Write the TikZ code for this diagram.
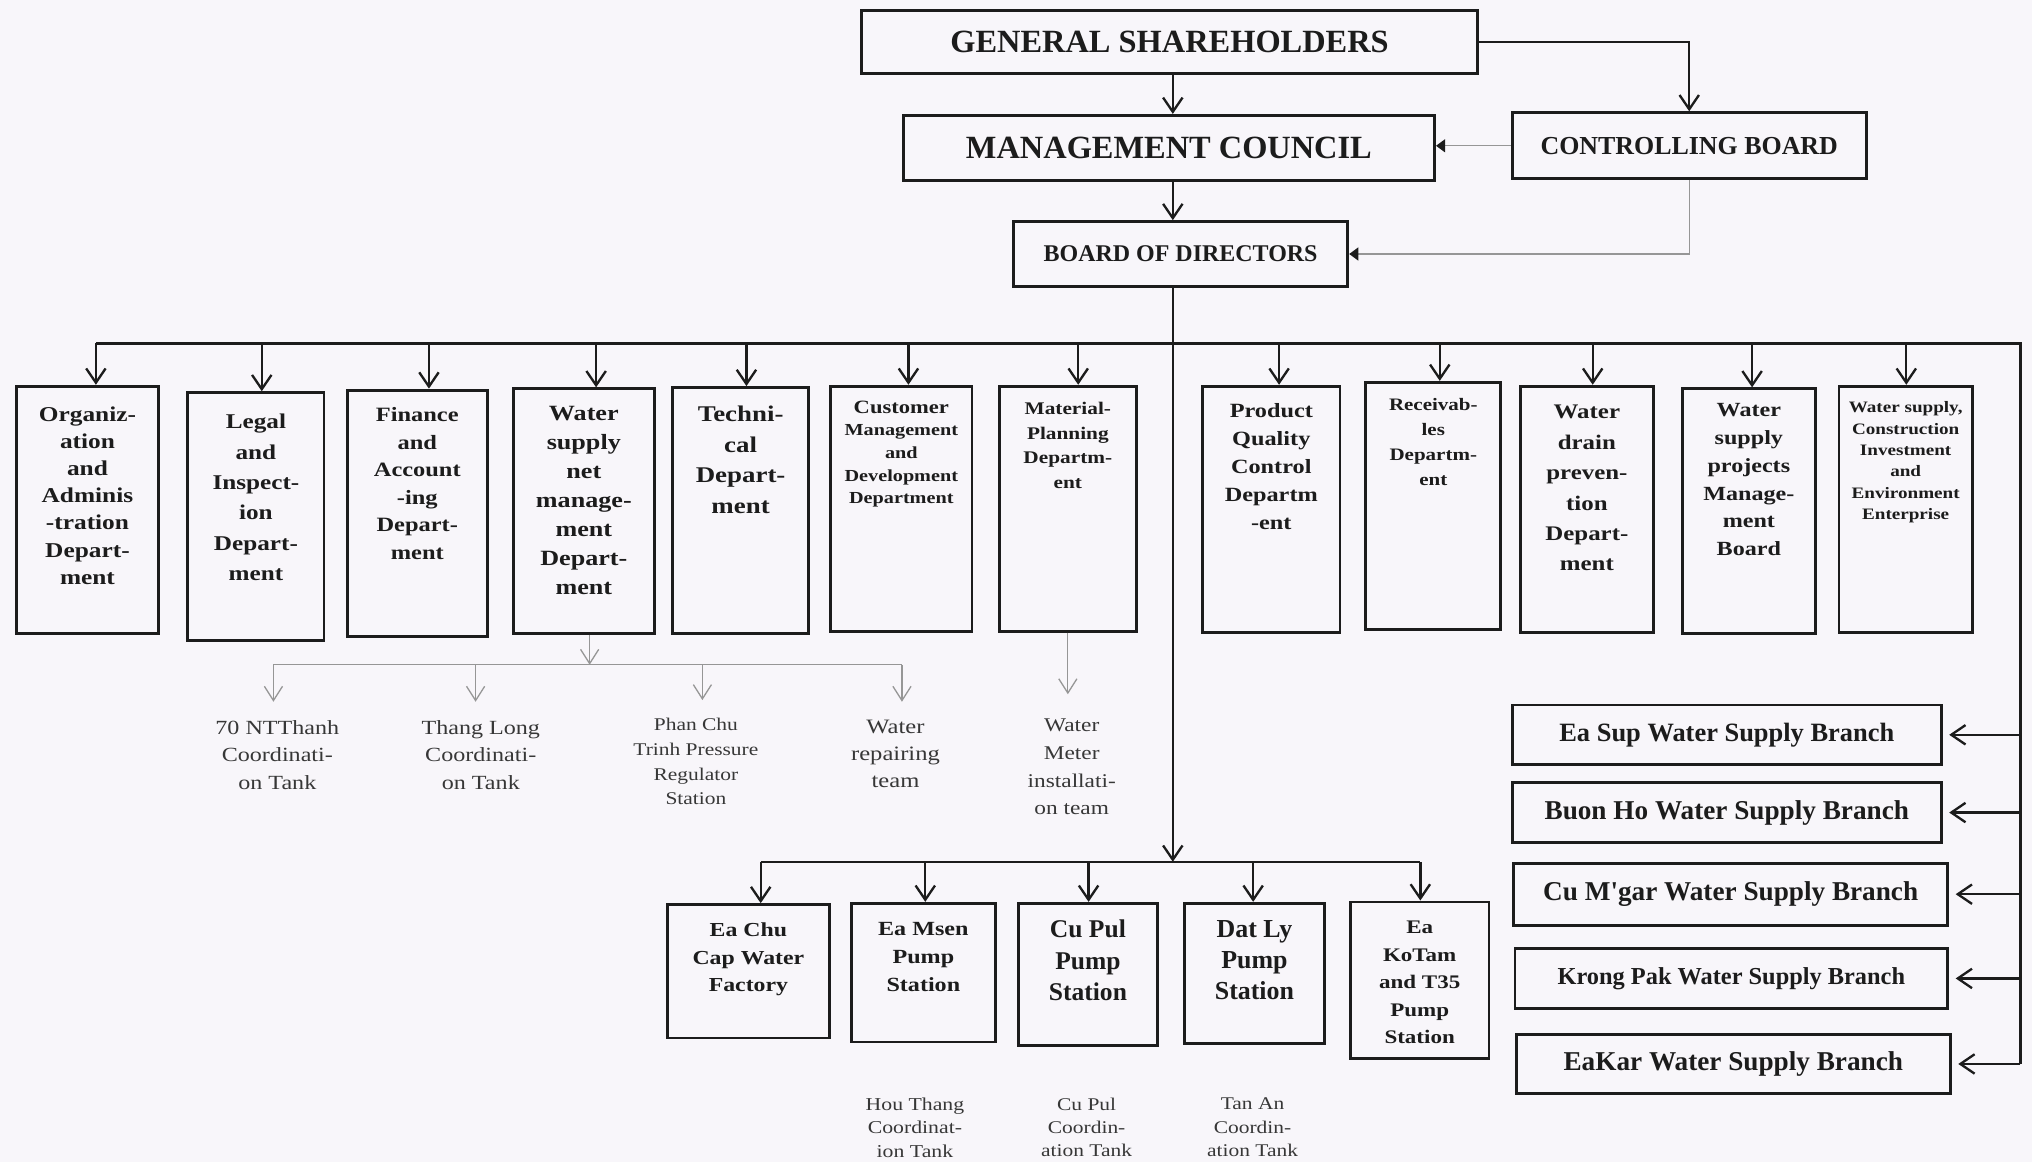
\documentclass[tikz,border=0pt]{standalone}
\usepackage{fontspec}
\setmainfont{Liberation Serif}
\newfontfamily\widefam[FakeStretch=1.2]{Liberation Serif}
\usetikzlibrary{arrows.meta,calc}
\definecolor{bg}{RGB}{248,246,250}
\definecolor{ink}{RGB}{28,28,28}
\definecolor{subink}{RGB}{55,55,55}
\definecolor{gline}{RGB}{150,150,150}
\newcommand\dfb[2]{\widefam\bfseries\fontsize{#1}{#2}\selectfont}
\newcommand\dfr[2]{\widefam\fontsize{#1}{#2}\selectfont}
\newcommand\dnb[2]{\bfseries\fontsize{#1}{#2}\selectfont}
\tikzset{
  box/.style={draw=ink, line width=2.2pt, inner sep=0pt, text=ink},
  txt/.style={inner sep=0pt, align=center, text=ink, anchor=north},
  subtxt/.style={inner sep=0pt, align=center, text=subink, anchor=north},
  conn/.style={draw=ink, line width=1.8pt, -{Straight Barb[length=11pt,width=15pt]}},
  busline/.style={draw=ink, line width=1.8pt},
  gconn/.style={draw=gline, line width=1pt, -{Straight Barb[length=11pt,width=14pt]}},
  gbus/.style={draw=gline, line width=1pt},
  tri/.style={draw=gline, line width=1pt, -{Triangle[length=7pt,width=10pt,color=ink]}}
}
\begin{document}
\begin{tikzpicture}[x=1pt,y=-1pt]
\fill[bg] (0,0) rectangle (1568,897);
\useasboundingbox (0,0) rectangle (1568,897);

% top level
\node[box, minimum width=475pt, minimum height=49pt, font=\dnb{25}{30}] (GS) at (902.5,32.5) {GENERAL SHAREHOLDERS};
\node[box, minimum width=410pt, minimum height=50pt, font=\dnb{25}{30}] (MC) at (902,114) {MANAGEMENT COUNCIL};
\node[box, minimum width=273pt, minimum height=51pt, font=\dnb{20}{24}] (CB) at (1303.5,112.5) {CONTROLLING BOARD};
\node[box, minimum width=258pt, minimum height=50pt, font=\dnb{18.5}{22}] (BoD) at (911,196) {BOARD OF DIRECTORS};

\coordinate (spine) at (905,221);

% departments
\node[box, minimum width=109pt, minimum height=191pt] (d1) at (67.5,393.5) {};
\node[box, minimum width=105pt, minimum height=191pt] (d2) at (197.5,398.5) {};
\node[box, minimum width=108pt, minimum height=190pt] (d3) at (322,396) {};
\node[box, minimum width=109pt, minimum height=189pt] (d4) at (450.5,394.5) {};
\node[box, minimum width=105pt, minimum height=190pt] (d5) at (571.5,394) {};
\node[box, minimum width=109pt, minimum height=189pt] (d6) at (695.5,392.5) {};
\node[box, minimum width=106pt, minimum height=189pt] (d7) at (824,392.5) {};
\node[box, minimum width=106pt, minimum height=190pt] (d8) at (981,393) {};
\node[box, minimum width=104pt, minimum height=191pt] (d9) at (1106,390.5) {};
\node[box, minimum width=103pt, minimum height=190pt] (d10) at (1224.5,393) {};
\node[box, minimum width=103pt, minimum height=189pt] (d11) at (1349.5,394.5) {};
\node[box, minimum width=103pt, minimum height=190pt] (d12) at (1470.5,393) {};

\node[txt, font=\dfb{16.3}{21}] (t1) at ($(d1.north)+(0,16.5)$) {Organiz-\\ation\\and\\Adminis\\-tration\\Depart-\\ment};
\node[txt, font=\dfb{16.2}{23.4}] (t2) at ($(d2.north)+(0,17.5)$) {Legal\\and\\Inspect-\\ion\\Depart-\\ment};
\node[txt, font=\dfb{15.7}{21.2}] (t3) at ($(d3.north)+(0,14.5)$) {Finance\\and\\Account\\-ing\\Depart-\\ment};
\node[txt, font=\dfb{16.8}{22.3}] (t4) at ($(d4.north)+(0,14.5)$) {Water\\supply\\net\\manage-\\ment\\Depart-\\ment};
\node[txt, font=\dfb{17.3}{23.7}] (t5) at ($(d5.north)+(0,15)$) {Techni-\\cal\\Depart-\\ment};
\node[txt, font=\dfb{13}{17.5}] (t6) at ($(d6.north)+(0,12)$) {{\fontsize{14.5}{17.5}\selectfont Customer}\\Management\\and\\Development\\Department};
\node[txt, font=\dfb{13.7}{19}] (t7) at ($(d7.north)+(0,13.3)$) {Material-\\Planning\\Departm-\\ent};
\node[txt, font=\dfb{15.6}{21.5}] (t8) at ($(d8.north)+(0,14.5)$) {Product\\Quality\\Control\\Departm\\-ent};
\node[txt, font=\dfb{13.5}{19.3}] (t9) at ($(d9.north)+(0,13.5)$) {Receivab-\\les\\Departm-\\ent};
\node[txt, font=\dfb{16}{23.5}] (t10) at ($(d10.north)+(0,15.5)$) {Water\\drain\\preven-\\tion\\Depart-\\ment};
\node[txt, font=\dfb{15.5}{21.4}] (t11) at ($(d11.north)+(0,12.5)$) {Water\\supply\\projects\\Manage-\\ment\\Board};
\node[txt, font=\dfb{12.3}{16.5}] (t12) at ($(d12.north)+(0,12.8)$) {Water supply,\\Construction\\Investment\\and\\Environment\\Enterprise};

% sub units of water supply net / material
\node[subtxt, font=\dfr{15.5}{21.5}] (s1) at (214,555.5) {70 NTThanh\\Coordinati-\\on Tank};
\node[subtxt, font=\dfr{15.5}{21.5}] (s2) at (371,555.5) {Thang Long\\Coordinati-\\on Tank};
\node[subtxt, font=\dfr{13.8}{19}] (s3) at (537,554.2) {Phan Chu\\Trinh Pressure\\Regulator\\Station};
\node[subtxt, font=\dfr{15.8}{21}] (s4) at (691,555.5) {Water\\repairing\\team};
\node[subtxt, font=\dfr{15}{21.3}] (s5) at (827,554.7) {Water\\Meter\\installati-\\on team};

% bottom boxes
\node[box, minimum width=125pt, minimum height=103pt] (e1) at (577.5,749.5) {};
\node[box, minimum width=111pt, minimum height=107pt] (e2) at (712.5,750.5) {};
\node[box, minimum width=107pt, minimum height=110pt] (e3) at (839.5,752) {};
\node[box, minimum width=108pt, minimum height=108pt] (e4) at (968,751) {};
\node[box, minimum width=107pt, minimum height=121pt] (e5) at (1095.5,756.5) {};

\node[txt, font=\dfb{15.3}{21.5}] (u1) at ($(e1.north)+(0,14.7)$) {Ea Chu\\Cap Water\\Factory};
\node[txt, font=\dfb{15.5}{21.5}] (u2) at ($(e2.north)+(0,15.6)$) {Ea Msen\\Pump\\Station};
\node[txt, font=\dnb{19.7}{24.5}] (u3) at ($(e3.north)+(0,13.5)$) {Cu Pul\\Pump\\Station};
\node[txt, font=\dnb{20}{24}] (u4) at ($(e4.north)+(0,14.4)$) {Dat Ly\\Pump\\Station};
\node[txt, font=\dfb{14.8}{21.2}] (u5) at ($(e5.north)+(0,15.8)$) {Ea\\KoTam\\and T35\\Pump\\Station};

\node[subtxt, font=\dfr{14}{18}] (h1) at (706,847) {Hou Thang\\Coordinat-\\ion Tank};
\node[subtxt, font=\dfr{13.8}{18}] (h2) at (838.5,847) {Cu Pul\\Coordin-\\ation Tank};
\node[subtxt, font=\dfr{13.8}{18}] (h3) at (966.5,847) {Tan An\\Coordin-\\ation Tank};

% branches
\node[box, minimum width=331pt, minimum height=46pt, font=\dnb{20.4}{24}] (br1) at (1332.5,567) {Ea Sup Water Supply Branch};
\node[box, minimum width=331pt, minimum height=46pt, font=\dnb{21}{24}] (br2) at (1332.5,627) {Buon Ho Water Supply Branch};
\node[box, minimum width=335pt, minimum height=48pt, font=\dnb{21}{24}] (br3) at (1335.5,690) {Cu M\textquotesingle gar Water Supply Branch};
\node[box, minimum width=334pt, minimum height=46pt, font=\dnb{18.8}{22}] (br4) at (1336,755) {Krong Pak Water Supply Branch};
\node[box, minimum width=335pt, minimum height=46pt, font=\dnb{21}{24}] (br5) at (1337.5,821) {EaKar Water Supply Branch};

% ---- connectors, top
\draw[conn] (GS.south -| spine) -- (MC.north -| spine);
\draw[conn] (GS.east) -| (CB.north);
\draw[tri] (CB.west) -- (CB.west -| MC.east);
\draw[tri] (CB.south) |- (BoD.east);
\draw[conn] (MC.south -| spine) -- (BoD.north -| spine);

% main bus
\coordinate (b1) at (74,265);
\coordinate (b2) at (202,265);
\coordinate (b3) at (331,265);
\coordinate (b4) at (460,265);
\coordinate (b5) at (576,265);
\coordinate (b6) at (701,265);
\coordinate (b7) at (832,265);
\coordinate (b8) at (987,265);
\coordinate (b9) at (1111,265);
\coordinate (b10) at (1229,265);
\coordinate (b11) at (1352,265);
\coordinate (b12) at (1471,265);
\coordinate (bR) at (1559,265);
\draw[busline] (b1) -- (bR) -- (bR |- br5.east);
\foreach \i in {1,...,12} { \draw[conn] (b\i) -- (b\i |- d\i.north); }
\foreach \i in {1,...,5} { \draw[conn] (bR |- br\i.east) -- ([xshift=5pt]br\i.east); }

% spine to lower bus
\coordinate (c1) at (587,665);
\coordinate (c2) at (714,665);
\coordinate (c3) at (840,665);
\coordinate (c4) at (967,665);
\coordinate (c5) at (1096,665);
\draw[conn] (BoD.south -| spine) -- (spine |- c1);
\draw[busline] (c1) -- (c5);
\foreach \i in {1,...,5} { \draw[conn] (c\i) -- (c\i |- e\i.north); }

% gray sub connectors
\coordinate (gw) at (455,513);
\coordinate (g1) at (211,513);
\coordinate (g2) at (367,513);
\coordinate (g3) at (542,513);
\coordinate (g4) at (696,513);
\draw[gconn] (gw |- d4.south) -- (gw);
\draw[gbus] (g1) -- (g4);
\draw[gconn, shorten >=14pt] (g1) -- (g1 |- s1.north);
\draw[gconn, shorten >=14pt] (g2) -- (g2 |- s2.north);
\draw[gconn, shorten >=14pt] (g3) -- (g3 |- s3.north);
\draw[gconn, shorten >=14pt] (g4) -- (g4 |- s4.north);
\draw[gconn, shorten >=19pt] (d7.south) -- (d7.south |- s5.north);
\end{tikzpicture}
\end{document}
